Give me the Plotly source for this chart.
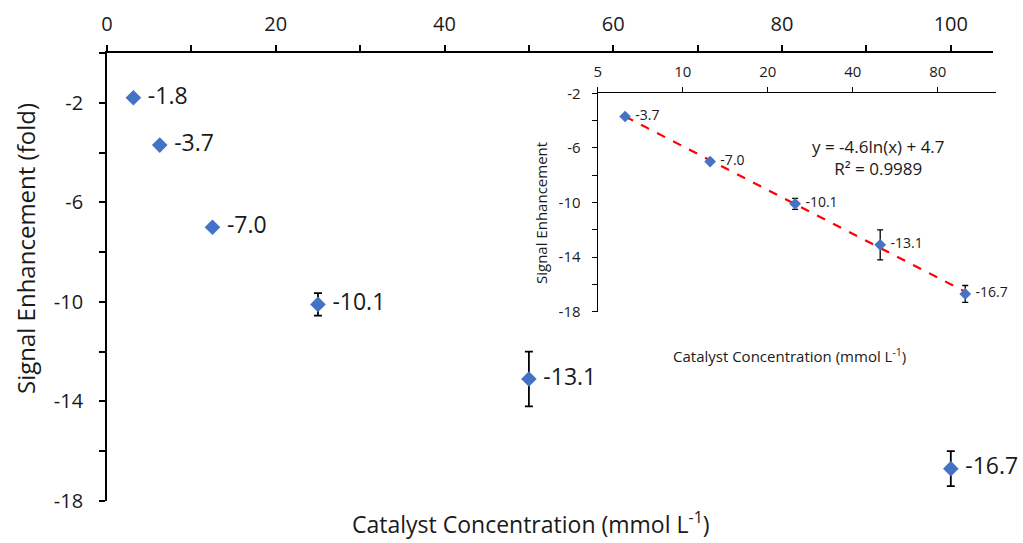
import numpy as np
import plotly.graph_objects as go

# ---- data ----
conc = [3.125, 6.25, 12.5, 25, 50, 100]
signal = [-1.8, -3.7, -7.0, -10.1, -13.1, -16.7]
err = [0.05, 0.05, 0.05, 0.45, 1.1, 0.7]
labels = ["-1.8", "-3.7", "-7.0", "-10.1", "-13.1", "-16.7"]

inset_conc = conc[1:]
inset_signal = signal[1:]
inset_err = [0.05, 0.05, 0.4, 1.1, 0.62]
inset_labels = labels[1:]

main_x_ticks = [0, 20, 40, 60, 80, 100]
main_y_ticks = [-2, -6, -10, -14, -18]
inset_x_ticks = [5, 10, 20, 40, 80]
inset_y_ticks = [-2, -6, -10, -14, -18]

eq_text = "y = -4.6ln(x) + 4.7<br>R² = 0.9989"

# log fit for trendline
slope, intercept = np.polyfit(np.log(inset_conc), inset_signal, 1)
trend_x = [inset_conc[0], inset_conc[-1]]
trend_y = [slope * np.log(v) + intercept for v in trend_x]

FONT = "Open Sans"
TXT = "#1a1a1a"
BLUE = "#4472C4"
W, H = 1023, 543

fig = go.Figure()

# main series
fig.add_trace(go.Scatter(
    x=conc, y=signal, mode="markers+text",
    text=[" " + t for t in labels], textposition="middle right",
    textfont=dict(family=FONT, size=23, color=TXT),
    marker=dict(symbol="diamond", size=12, color=BLUE),
    error_y=dict(type="data", array=err, color="black", thickness=1.8, width=4),
    xaxis="x", yaxis="y", showlegend=False, cliponaxis=False,
))

# inset trendline
fig.add_trace(go.Scatter(
    x=trend_x, y=trend_y, mode="lines",
    line=dict(color="#FF0000", width=2.2, dash="dash"),
    xaxis="x2", yaxis="y2", showlegend=False,
))

# inset series
fig.add_trace(go.Scatter(
    x=inset_conc, y=inset_signal, mode="markers+text",
    text=[" " + t for t in inset_labels], textposition="middle right",
    textfont=dict(family=FONT, size=14, color=TXT),
    marker=dict(symbol="diamond", size=9, color=BLUE),
    error_y=dict(type="data", array=inset_err, color="black", thickness=1.3, width=3),
    xaxis="x2", yaxis="y2", showlegend=False, cliponaxis=False,
))

axis_common = dict(showgrid=False, zeroline=False, showline=True, automargin=False,
                   linecolor="black", ticks="outside", tickcolor="black")

fig.update_layout(
    width=W, height=H,
    margin=dict(l=0, r=0, t=0, b=0),
    paper_bgcolor="white", plot_bgcolor="rgba(0,0,0,0)",
    font=dict(family=FONT, color=TXT),
    xaxis=dict(**axis_common, domain=[107 / W, 993 / W], range=[0, 105],
               side="top", anchor="y", linewidth=1.8, tickwidth=1.8, ticklen=6,
               tickvals=main_x_ticks, ticktext=[str(v) for v in main_x_ticks],
               tickfont=dict(size=20), ticklabelstandoff=6,
               minor=dict(ticks="outside", dtick=10, tick0=0, ticklen=6,
                          tickwidth=1.8, tickcolor="black")),
    yaxis=dict(**axis_common, domain=[1 - 501 / H, 1 - 53 / H], range=[-18, 0],
               anchor="x", linewidth=1.8, tickwidth=1.8, ticklen=6,
               tickvals=main_y_ticks, ticktext=[str(v) for v in main_y_ticks],
               tickfont=dict(size=20), ticklabelstandoff=12,
               minor=dict(ticks="outside", dtick=2, tick0=0, ticklen=6,
                          tickwidth=1.8, tickcolor="black")),
    xaxis2=dict(**axis_common, type="log", domain=[597.7 / W, 996 / W],
                range=[np.log10(5), np.log10(128.5)], side="top", anchor="y2",
                linewidth=1.3, tickwidth=1.3, ticklen=5,
                tickvals=inset_x_ticks, ticktext=[str(v) for v in inset_x_ticks],
                tickfont=dict(size=15), ticklabelstandoff=4),
    yaxis2=dict(**axis_common, domain=[1 - 311.7 / H, 1 - 93.3 / H],
                range=[-18, -2], anchor="x2", linewidth=1.3, tickwidth=1.3,
                ticklen=5, tickvals=inset_y_ticks,
                ticktext=[str(v) for v in inset_y_ticks],
                tickfont=dict(size=15), ticklabelstandoff=8,
                minor=dict(ticks="outside", dtick=2, tick0=0, ticklen=5,
                           tickwidth=1.3, tickcolor="black")),
    annotations=[
        dict(text="Catalyst Concentration (mmol L<sup>-1</sup>)",
             x=531 / W, y=1 - 523 / H, xref="paper", yref="paper",
             showarrow=False, font=dict(size=23), xanchor="center", yanchor="middle"),
        dict(text="Signal Enhancement (fold)", textangle=-90,
             x=25 / W, y=1 - 249 / H, xref="paper", yref="paper",
             showarrow=False, font=dict(size=24), xanchor="center", yanchor="middle"),
        dict(text="Catalyst Concentration (mmol L<sup>-1</sup>)",
             x=789 / W, y=1 - 355 / H, xref="paper", yref="paper",
             showarrow=False, font=dict(size=15), xanchor="center", yanchor="middle"),
        dict(text="Signal Enhancement", textangle=-90,
             x=541 / W, y=1 - 213 / H, xref="paper", yref="paper",
             showarrow=False, font=dict(size=15), xanchor="center", yanchor="middle"),
        dict(text=eq_text, x=878 / W, y=1 - 158 / H, xref="paper", yref="paper",
             showarrow=False, font=dict(size=17), align="center",
             xanchor="center", yanchor="middle"),
    ],
)

fig.write_html("out.html")
